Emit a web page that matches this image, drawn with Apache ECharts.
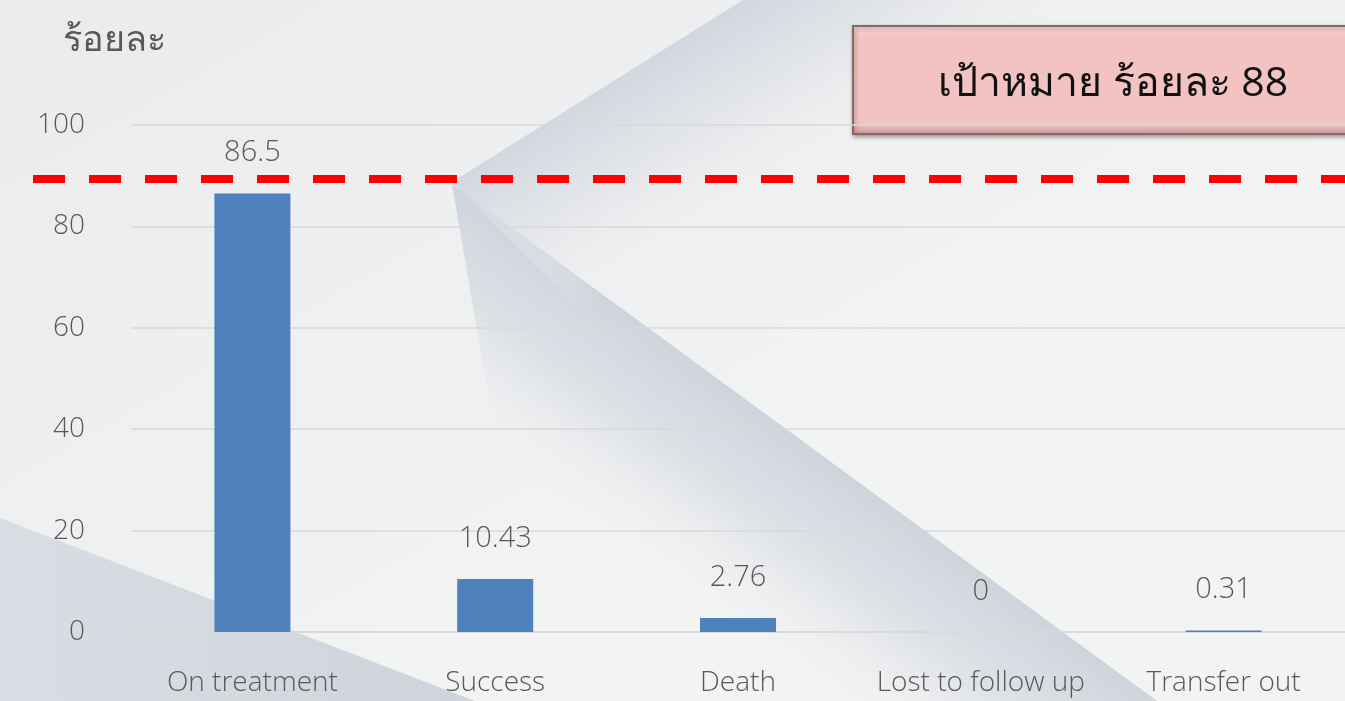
<!DOCTYPE html>
<html>
<head>
<meta charset="utf-8">
<title>ร้อยละ</title>
<script src="https://cdn.jsdelivr.net/npm/echarts@6/dist/echarts.min.js"></script>
<style>
  html, body { margin: 0; padding: 0; background: #eff0f1; }
  #main { width: 1345px; height: 701px; }
</style>
</head>
<body>
<div id="main"></div>
<script>
// data
var categories = ['On treatment', 'Success', 'Death', 'Lost to follow up', 'Transfer out'];
var percentValues = [86.5, 10.43, 2.76, 0, 0.31];
var yTicks = [0, 20, 40, 60, 80, 100];
var targetLineValue = 89.4;   // where the red dashed line sits on the axis
var targetText = 'เป้าหมาย ร้อยละ 88';
var yAxisTitle = 'ร้อยละ';

var FONT = "'Open Sans', 'Noto Sans', sans-serif";
var GREY = '#595959';

var chart = echarts.init(document.getElementById('main'));

var option = {
  backgroundColor: new echarts.graphic.LinearGradient(0, 0, 0.3, 1, [
    { offset: 0, color: '#e9ebed' }, { offset: 1, color: '#f2f3f3' }
  ]),
  animation: false,
  textStyle: { fontFamily: FONT },
  title: {
    text: yAxisTitle,
    left: 58,
    top: 18,
    textStyle: { fontFamily: FONT, fontSize: 36, fontWeight: 'normal', color: GREY }
  },
  graphic: [
    // slide background shapes
    {
      type: 'polygon', z: -10, silent: true,
      shape: { points: [[0, 518], [0, 701], [475, 701]] },
      style: {
        fill: new echarts.graphic.LinearGradient(0, 0, 1, 0, [
          { offset: 0, color: '#d9dde3' }, { offset: 1, color: '#cfd4dc' }
        ])
      }
    },
    {
      type: 'polygon', z: -10, silent: true,
      shape: { points: [[452, 184], [1157, 701], [540, 701]] },
      style: {
        fill: new echarts.graphic.LinearGradient(800, 439, 682, 600, [
          { offset: 0, color: '#cfd4dc' },
          { offset: 0.45, color: 'rgba(216,220,227,0.75)' },
          { offset: 1, color: 'rgba(240,241,242,0)' }
        ], true)
      }
    },
    {
      type: 'polygon', z: -10, silent: true,
      shape: { points: [[452, 182], [743, 0], [1150, 0], [600, 330]] },
      style: {
        fill: new echarts.graphic.LinearGradient(600, 88, 694, 243, [
          { offset: 0, color: '#d2d6de' },
          { offset: 0.45, color: 'rgba(221,224,230,0.7)' },
          { offset: 1, color: 'rgba(238,239,240,0)' }
        ], true)
      }
    },
    // target box
    {
      type: 'group', left: 852, top: 25, z: 20,
      children: [
        {
          type: 'rect',
          shape: { x: 0, y: 0, width: 500, height: 108 },
          style: {
            fill: new echarts.graphic.LinearGradient(0, 0, 0, 1, [
              { offset: 0, color: '#fbe0e0' },
              { offset: 0.1, color: '#f3c2c2' },
              { offset: 0.9, color: '#f3c2c2' },
              { offset: 1, color: '#c99595' }
            ]),
            stroke: '#8a6666',
            lineWidth: 2,
            shadowBlur: 4,
            shadowOffsetX: 1,
            shadowOffsetY: 2,
            shadowColor: 'rgba(0,0,0,0.35)'
          }
        },
        {
          type: 'text',
          style: {
            text: targetText,
            x: 260, y: 58,
            align: 'center', verticalAlign: 'middle',
            font: 'normal 41px ' + FONT,
            fill: '#111'
          }
        }
      ]
    }
  ],
  grid: [
    { left: 131, right: 0, top: 125, bottom: 69 },
    { left: 33, right: 0, top: 125, bottom: 69 }
  ],
  xAxis: [
    {
      type: 'category',
      gridIndex: 0,
      data: categories,
      axisTick: { show: false },
      axisLine: { lineStyle: { color: '#d9d9d9', width: 1.5 } },
      axisLabel: { interval: 0, color: GREY, fontSize: 28, fontWeight: 300, fontFamily: FONT, margin: 37 }
    },
    {
      type: 'category',
      gridIndex: 1,
      data: [''],
      show: false
    }
  ],
  yAxis: [
    {
      type: 'value',
      gridIndex: 0,
      min: yTicks[0],
      max: yTicks[yTicks.length - 1],
      interval: yTicks[1] - yTicks[0],
      axisLine: { show: false },
      axisTick: { show: false },
      splitLine: { lineStyle: { color: '#d9d9d9', width: 1.5 } },
      axisLabel: { color: GREY, fontSize: 28, fontWeight: 300, fontFamily: FONT, margin: 46 }
    },
    {
      type: 'value',
      gridIndex: 1,
      min: yTicks[0],
      max: yTicks[yTicks.length - 1],
      show: false
    }
  ],
  series: [
    {
      type: 'bar',
      xAxisIndex: 0,
      yAxisIndex: 0,
      data: percentValues,
      barWidth: 76,
      itemStyle: { color: '#4f81bd' },
      label: {
        show: true,
        position: 'top',
        distance: 26,
        color: GREY,
        fontSize: 29,
        fontWeight: 300,
        fontFamily: FONT
      }
    },
    {
      type: 'line',
      xAxisIndex: 1,
      yAxisIndex: 1,
      data: [null],
      symbol: 'none',
      silent: true,
      markLine: {
        silent: true,
        symbol: ['none', 'none'],
        label: { show: false },
        lineStyle: { color: '#ff0000', width: 8, type: [32, 24] },
        emphasis: { disabled: true },
        data: [{ yAxis: targetLineValue }]
      }
    }
  ]
};

chart.setOption(option);
</script>
</body>
</html>
